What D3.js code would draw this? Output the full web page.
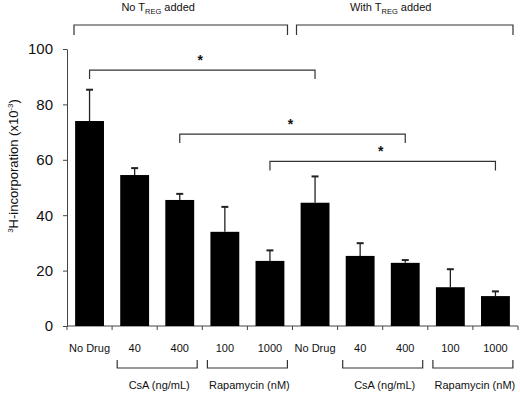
<!DOCTYPE html>
<html>
<head>
<meta charset="utf-8">
<script src="https://cdn.jsdelivr.net/npm/d3@7"></script>
<style>
  body { margin: 0; background: #fff; }
  svg { display: block; font-family: "Liberation Sans", Arial, sans-serif; }
</style>
</head>
<body>
<div class="container"></div>
<script>
// bar chart with error bars and significance brackets

const categories = ["No Drug", "40", "400", "100", "1000", "No Drug", "40", "400", "100", "1000"];
const means = [74, 54.5, 45.5, 34, 23.5, 44.5, 25.3, 22.8, 14, 10.8];
const upper = [85.3, 57, 47.7, 43, 27.3, 54, 29.9, 23.8, 20.5, 12.5];
const yTicks = [0, 20, 40, 60, 80, 100];

// significance pairs (bar index a, bar index b, bracket level)
const comparisons = [
  { a: 0, b: 5, level: 92.4 },
  { a: 2, b: 7, level: 69.3 },
  { a: 4, b: 9, level: 59.4 },
];

const groups = [
  { name: "No ", sub: "REG", rest: " added", from: 0, to: 4 },
  { name: "With ", sub: "REG", rest: " added", from: 5, to: 9 },
];

const drugs = [
  { label: "CsA (ng/mL)", from: 1, to: 2 },
  { label: "Rapamycin (nM)", from: 3, to: 4 },
  { label: "CsA (ng/mL)", from: 6, to: 7 },
  { label: "Rapamycin (nM)", from: 8, to: 9 },
];

const w = 520;
const h = 393;
const margin = { top: 49, right: 2, bottom: 67, left: 67 };
const ink = "#111";

const svg = d3.select(".container")
  .append("svg")
  .attr("width", w)
  .attr("height", h);

const idx = d3.range(categories.length);

const x = d3.scaleBand()
  .domain(idx)
  .range([margin.left, w - margin.right])
  .paddingInner(0.36)
  .paddingOuter(0.18);

const y = d3.scaleLinear()
  .domain([0, 100])
  .range([h - margin.bottom, margin.top]);

const step = x.step();
const x0 = margin.left;
const cx = (i) => x(i) + x.bandwidth() / 2;
const edge = (i) => x0 + i * step;

// y axis
const yAxis = svg.append("g")
  .attr("transform", `translate(${margin.left},0)`)
  .call(d3.axisLeft(y).tickValues(yTicks).tickSize(4).tickSizeOuter(0).tickPadding(10));
yAxis.select(".domain").attr("stroke", "#444").attr("stroke-width", 1);
yAxis.selectAll(".tick line").attr("stroke", "#444");
yAxis.selectAll(".tick text")
  .attr("font-size", "15px")
  .attr("fill", ink)
  .attr("font-family", "Liberation Sans, Arial, sans-serif");

// y title
const yt = svg.append("text")
  .attr("transform", "translate(18,166) rotate(-90)")
  .attr("text-anchor", "middle")
  .attr("font-size", "13px")
  .attr("fill", ink);
yt.append("tspan").attr("font-size", "8px").attr("dy", "-5").text("3");
yt.append("tspan").attr("dy", "5").text("H-incorporation (x10");
yt.append("tspan").attr("font-size", "8px").attr("dy", "-5").text("-3");
yt.append("tspan").attr("dy", "5").text(")");

// x axis line and ticks at band edges
svg.append("line")
  .attr("x1", x0).attr("x2", w - margin.right)
  .attr("y1", y(0)).attr("y2", y(0))
  .attr("stroke", "#444");

svg.selectAll("line.xtick")
  .data(d3.range(categories.length + 1))
  .join("line")
  .attr("class", "xtick")
  .attr("x1", (d) => edge(d)).attr("x2", (d) => edge(d))
  .attr("y1", y(0)).attr("y2", y(0) + 4)
  .attr("stroke", "#444");

// bars
svg.selectAll("rect.bar")
  .data(idx)
  .join("rect")
  .attr("class", "bar")
  .attr("x", (i) => x(i))
  .attr("width", x.bandwidth())
  .attr("y", (i) => y(means[i]))
  .attr("height", (i) => y(0) - y(means[i]))
  .attr("fill", "#000");

// error bars
svg.selectAll("line.err")
  .data(idx)
  .join("line")
  .attr("class", "err")
  .attr("x1", cx).attr("x2", cx)
  .attr("y1", (i) => y(means[i]))
  .attr("y2", (i) => y(upper[i]))
  .attr("stroke", "#222")
  .attr("stroke-width", 1.3);

svg.selectAll("line.cap")
  .data(idx)
  .join("line")
  .attr("class", "cap")
  .attr("x1", (i) => cx(i) - 3.5).attr("x2", (i) => cx(i) + 3.5)
  .attr("y1", (i) => y(upper[i]))
  .attr("y2", (i) => y(upper[i]))
  .attr("stroke", "#222")
  .attr("stroke-width", 2);

// category labels
svg.selectAll("text.cat")
  .data(idx)
  .join("text")
  .attr("class", "cat")
  .attr("x", cx)
  .attr("y", y(0) + 26)
  .attr("text-anchor", "middle")
  .attr("font-size", "11px")
  .attr("fill", ink)
  .text((i) => categories[i]);

// drug brackets under the axis
const drugG = svg.selectAll("g.drug")
  .data(drugs)
  .join("g")
  .attr("class", "drug");

drugG.append("path")
  .attr("d", (d) => {
    const mid = (cx(d.from) + cx(d.to)) / 2;
    const by = y(0) + 42;
    return `M${mid - 40},${by - 8}V${by}H${mid + 40}V${by - 8}`;
  })
  .attr("fill", "none")
  .attr("stroke", "#333")
  .attr("stroke-width", 1.2);

drugG.append("text")
  .attr("x", (d) => (cx(d.from) + cx(d.to)) / 2 + 2)
  .attr("y", y(0) + 63)
  .attr("text-anchor", "middle")
  .attr("font-size", "11px")
  .attr("fill", ink)
  .text((d) => d.label);

// group brackets on top
const topY = 25;
const grpG = svg.selectAll("g.grp")
  .data(groups)
  .join("g")
  .attr("class", "grp");

grpG.append("path")
  .attr("d", (d) => {
    const a = edge(d.from) + (d.from === 0 ? 7 : 4);
    const b = edge(d.to + 1) - 5;
    return `M${a},${topY + 10}V${topY}H${b}V${topY + 10}`;
  })
  .attr("fill", "none")
  .attr("stroke", "#333")
  .attr("stroke-width", 1.2);

const gt = grpG.append("text")
  .attr("x", (d) => edge(d.from + 2) + (d.from === 0 ? 1 : 8))
  .attr("y", 11)
  .attr("text-anchor", "middle")
  .attr("font-size", "11px")
  .attr("fill", ink);
gt.append("tspan").text((d) => d.name + "T");
gt.append("tspan").attr("font-size", "7.5px").attr("dy", "3").text((d) => d.sub);
gt.append("tspan").attr("dy", "-3").text((d) => d.rest);

// significance brackets
const cmpG = svg.selectAll("g.cmp")
  .data(comparisons)
  .join("g")
  .attr("class", "cmp");

cmpG.append("path")
  .attr("d", (d) => {
    const ly = y(d.level);
    return `M${cx(d.a)},${ly + 9}V${ly}H${cx(d.b)}V${ly + 9}`;
  })
  .attr("fill", "none")
  .attr("stroke", "#333")
  .attr("stroke-width", 1.2);

cmpG.append("text")
  .attr("x", (d) => (cx(d.a) + cx(d.b)) / 2 - 2)
  .attr("y", (d) => y(d.level) - 5)
  .attr("text-anchor", "middle")
  .attr("font-size", "14px")
  .attr("font-weight", "bold")
  .attr("fill", ink)
  .text("*");
</script>
</body>
</html>
